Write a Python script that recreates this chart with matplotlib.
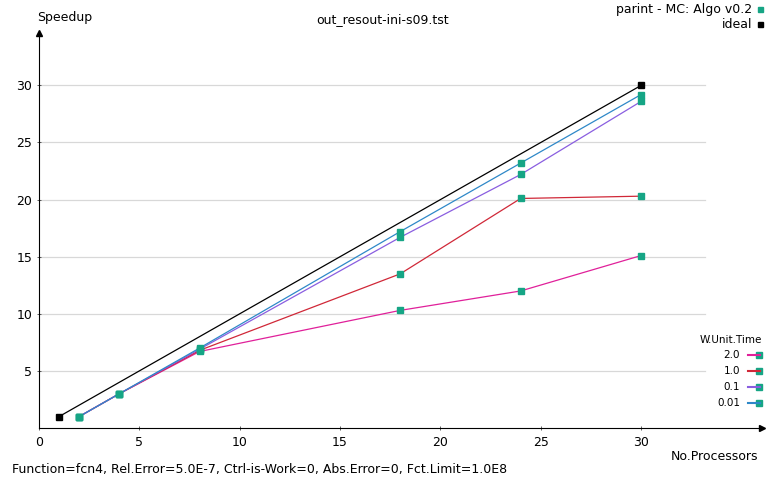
import matplotlib.pyplot as plt
import numpy as np

# data
procs = [2, 4, 8, 18, 24, 30]
wtime_labels = ["2.0", "1.0", "0.1", "0.01"]
speed_20 = [1.0, 3.0, 6.7, 10.3, 12.0, 15.1]
speed_10 = [1.0, 3.0, 6.8, 13.5, 20.1, 20.3]
speed_01 = [1.0, 3.0, 6.9, 16.7, 22.2, 28.6]
speed_001 = [1.0, 3.0, 7.0, 17.2, 23.2, 29.2]
ideal_x = [1, 30]
ideal_y = [1, 30]

line_colors = ["#e0209a", "#d02838", "#8a5ee0", "#2e88c8"]
mark_col = "#16a585"

fig = plt.figure(figsize=(7.68, 4.84), dpi=100)
W, H = 768, 484
# axes: x=0 at px 39, y=0 at px 428
x0, y0 = 39, 428
sx, sy = 20.07, 11.42
xmax = (762 - x0) / sx
ymax = (y0 - 33) / sy
ax = fig.add_axes([x0 / W, (H - y0) / H, (762 - x0) / W, (y0 - 33) / H])
ax.set_xlim(0, xmax)
ax.set_ylim(0, ymax)
for s in ["top", "right"]:
    ax.spines[s].set_visible(False)
ax.spines["left"].set_color("black")
ax.spines["bottom"].set_color("black")
ax.spines["left"].set_linewidth(0.8)
ax.spines["bottom"].set_linewidth(0.8)

# arrows on axes
ax.plot(0, ymax, marker="^", color="black", markersize=4, clip_on=False, transform=ax.transData)
ax.plot(xmax, 0, marker=">", color="black", markersize=4, clip_on=False, transform=ax.transData)

xt = [0, 5, 10, 15, 20, 25, 30]
yt = [5, 10, 15, 20, 25, 30]
ax.set_xticks(xt)
ax.set_xticklabels([str(v) for v in xt])
ax.set_yticks(yt)
ax.set_yticklabels([str(v) for v in yt])
ax.tick_params(axis="both", labelsize=9, length=3, width=0.6, color="#444444", direction="inout")
ax.tick_params(axis="x", pad=4)

gx_end = (705 - x0) / sx
for v in yt:
    ax.plot([0, gx_end], [v, v], color="#d8d8d8", lw=0.9, zorder=0)

# ideal
ax.plot(ideal_x, ideal_y, color="black", lw=0.9, zorder=2)
ax.plot(ideal_x, ideal_y, "s", color="black", markersize=5, zorder=5, linestyle="none")

series = [speed_20, speed_10, speed_01, speed_001]
for ys, c in zip(series, line_colors):
    ax.plot(procs, ys, color=c, lw=0.9, zorder=3)
for ys in series:
    ax.plot(procs, ys, "s", color=mark_col, markersize=5, zorder=4, linestyle="none")

# texts
fig.text(37 / W, 1 - 18 / H, "Speedup", ha="left", va="center", fontsize=9)
fig.text(383 / W, 1 - 20 / H, "out_resout-ini-s09.tst", ha="center", va="center", fontsize=9)
fig.text(752 / W, 1 - 9 / H, "parint - MC: Algo v0.2", ha="right", va="center", fontsize=9)
fig.text(752 / W, 1 - 24 / H, "ideal", ha="right", va="center", fontsize=9)
fig.patches.append(plt.Rectangle((758 / W, 1 - 12 / H), 5 / W, 5 / H, color=mark_col, transform=fig.transFigure, figure=fig))
fig.patches.append(plt.Rectangle((758 / W, 1 - 27 / H), 5 / W, 5 / H, color="black", transform=fig.transFigure, figure=fig))
fig.text(758 / W, 1 - 456 / H, "No.Processors", ha="right", va="center", fontsize=9)
fig.text(12 / W, 1 - 470 / H, "Function=fcn4, Rel.Error=5.0E-7, Ctrl-is-Work=0, Abs.Error=0, Fct.Limit=1.0E8",
         ha="left", va="center", fontsize=9)

fig.text(762 / W, 1 - 340 / H, "W.Unit.Time", ha="right", va="center", fontsize=7.5)
for i, (lab, c) in enumerate(zip(wtime_labels, line_colors)):
    yy = 1 - (355 + i * 16) / H
    fig.text(740 / W, yy, lab, ha="right", va="center", fontsize=7.5)
    fig.lines.append(plt.Line2D([748 / W, 760 / W], [yy, yy], color=c, lw=1.5, transform=fig.transFigure))
    fig.patches.append(plt.Rectangle((756 / W, yy - 3 / H), 6 / W, 6 / H, color=mark_col, transform=fig.transFigure, figure=fig))

fig.savefig("out.png", dpi=100)
